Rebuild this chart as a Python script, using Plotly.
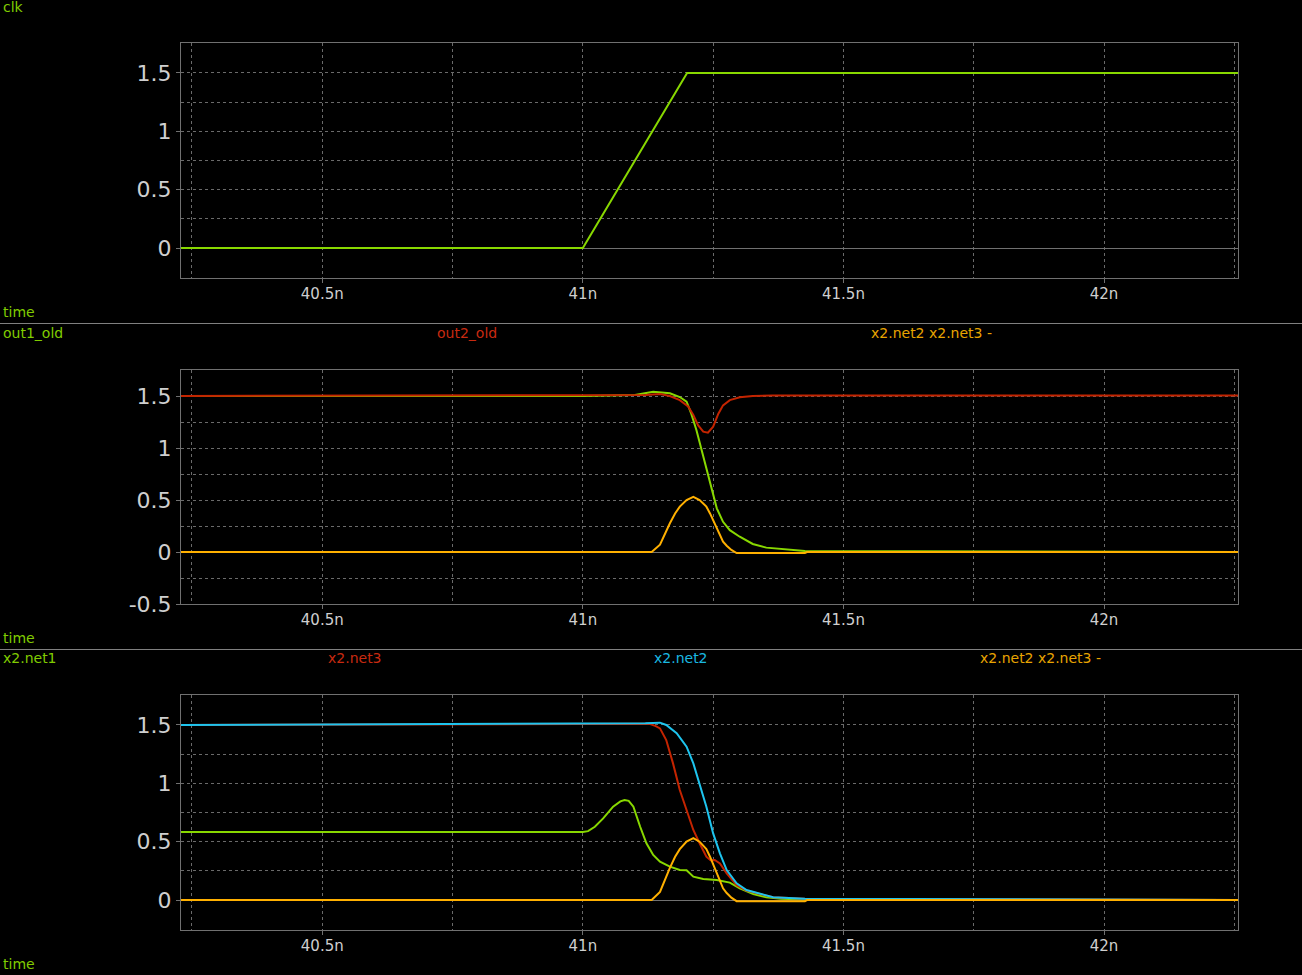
import plotly.graph_objects as go

# ---------------- data (time in ns, values in V) ----------------
clk_t = [40.2, 41.0, 41.2, 42.3]
clk_v = [0.0, 0.0, 1.5, 1.5]

out1_old_t = [40.2, 41.0, 41.1, 41.135, 41.167, 41.186, 41.199, 41.208, 41.218, 41.228,
              41.237, 41.247, 41.257, 41.269, 41.282, 41.301, 41.326, 41.352, 41.378,
              41.403, 41.426, 42.3]
out1_old_v = [1.5, 1.5, 1.51, 1.54, 1.526, 1.49, 1.445, 1.33, 1.17, 0.98,
              0.79, 0.596, 0.42, 0.29, 0.21, 0.147, 0.077, 0.042, 0.03,
              0.02, 0.01, 0.0]

out2_old_t = [40.2, 41.05, 41.12, 41.148, 41.167, 41.186, 41.202, 41.212, 41.221, 41.231,
              41.24, 41.25, 41.26, 41.269, 41.282, 41.301, 41.326, 41.364, 42.3]
out2_old_v = [1.5, 1.505, 1.51, 1.52, 1.5, 1.46, 1.40, 1.317, 1.22, 1.157,
              1.147, 1.205, 1.33, 1.41, 1.46, 1.487, 1.5, 1.505, 1.505]

diff_t = [40.2, 41.132, 41.148, 41.157, 41.167, 41.177, 41.186, 41.199, 41.212, 41.224,
          41.237, 41.244, 41.25, 41.257, 41.263, 41.269, 41.276, 41.285, 41.295,
          41.426, 41.43, 42.3]
diff_v = [0.0, 0.0, 0.07, 0.17, 0.276, 0.37, 0.436, 0.5, 0.53, 0.5,
          0.436, 0.371, 0.308, 0.229, 0.163, 0.1, 0.06, 0.02, -0.01,
          -0.01, 0.0, 0.0]

net1_t = [40.2, 41.0, 41.01, 41.023, 41.039, 41.058, 41.072, 41.08, 41.088, 41.097,
          41.11, 41.122, 41.135, 41.148, 41.167, 41.186, 41.199, 41.212, 41.231,
          41.257, 41.282, 41.301, 41.327, 41.352, 41.38, 41.426, 42.3]
net1_v = [0.583, 0.583, 0.59, 0.628, 0.7, 0.8, 0.845, 0.857, 0.85, 0.8,
          0.628, 0.486, 0.386, 0.329, 0.286, 0.257, 0.255, 0.2, 0.18,
          0.171, 0.149, 0.1, 0.051, 0.023, 0.01, 0.005, 0.0]

net3_t = [40.2, 41.0, 41.128, 41.14, 41.148, 41.16, 41.173, 41.186, 41.199, 41.212,
          41.224, 41.237, 41.245, 41.253, 41.263, 41.276, 41.295, 41.314, 41.34,
          41.365, 41.426, 42.3]
net3_v = [1.5, 1.505, 1.51, 1.49, 1.471, 1.371, 1.171, 0.943, 0.771, 0.6,
          0.486, 0.371, 0.34, 0.343, 0.314, 0.229, 0.126, 0.08, 0.051,
          0.023, 0.011, 0.0]

net2_t = [40.2, 41.0, 41.12, 41.148, 41.16, 41.18, 41.199, 41.212, 41.224, 41.237,
          41.25, 41.263, 41.276, 41.295, 41.314, 41.34, 41.365, 41.426, 42.3]
net2_v = [1.5, 1.508, 1.515, 1.52, 1.5, 1.43, 1.314, 1.171, 1.0, 0.8,
          0.571, 0.4, 0.257, 0.143, 0.086, 0.051, 0.023, 0.011, 0.0]

x_tickvals = [40.5, 41.0, 41.5, 42.0]
x_ticktext = ["40.5n", "41n", "41.5n", "42n"]
y_tickvals = [-0.5, 0.0, 0.5, 1.0, 1.5]
y_ticktext = ["-0.5", "0", "0.5", "1", "1.5"]

# ---------------- styling ----------------
GREEN = "#88d800"
RED = "#c42400"
ORANGE = "#ffb000"
CYAN = "#1ec4ee"
GREEN_TXT = "#80cc00"
RED_TXT = "#c82a10"
ORANGE_TXT = "#e8a400"
CYAN_TXT = "#1ab8e0"
BOX = "#707070"
GRID = "#6a6a6a"
TICKFONT = "#cfcfcf"
FONT = "DejaVu Sans"

W, H = 1302, 975
XL, XR = 181, 1238
panels = [(43, 278, [-0.257, 1.757]), (370, 604, [-0.5, 1.75]), (695, 930, [-0.257, 1.757])]

fig = go.Figure()

def add(t, v, color, idx):
    sfx = "" if idx == 1 else str(idx)
    fig.add_trace(go.Scatter(x=t, y=v, mode="lines", line=dict(color=color, width=2),
                             xaxis="x" + sfx, yaxis="y" + sfx, showlegend=False,
                             hoverinfo="skip"))

add(clk_t, clk_v, GREEN, 1)
add(out1_old_t, out1_old_v, GREEN, 2)
add(out2_old_t, out2_old_v, RED, 2)
add(diff_t, diff_v, ORANGE, 2)
add(net1_t, net1_v, GREEN, 3)
add(net3_t, net3_v, RED, 3)
add(net2_t, net2_v, CYAN, 3)
add(diff_t, diff_v, ORANGE, 3)

layout = dict(width=W, height=H, margin=dict(l=0, r=0, t=0, b=0, pad=0),
              autosize=False,
              paper_bgcolor="black", plot_bgcolor="black", showlegend=False)

for i, (top, bot, yr) in enumerate(panels, start=1):
    sfx = "" if i == 1 else str(i)
    xa = dict(domain=[XL / W, XR / W], range=[40.229, 42.257], anchor="y" + sfx,
              automargin=False,
              showline=True, mirror=True, linecolor=BOX, linewidth=1,
              tickmode="array", tickvals=x_tickvals, ticktext=x_ticktext,
              ticks="outside", ticklen=4, tickcolor=BOX, ticklabelstandoff=-2,
              tickfont=dict(family=FONT, size=15, color=TICKFONT),
              showgrid=True, gridcolor=GRID, griddash="3px,3px", gridwidth=1,
              minor=dict(tickmode="linear", tick0=0, dtick=0.25, showgrid=True,
                         gridcolor=GRID, griddash="3px,3px", ticks=""),
              zeroline=False, fixedrange=True)
    ya = dict(domain=[1 - bot / H, 1 - top / H], range=yr, anchor="x" + sfx,
              automargin=False,
              showline=True, mirror=True, linecolor=BOX, linewidth=1,
              tickmode="array", tickvals=y_tickvals, ticktext=y_ticktext,
              ticks="outside", ticklen=4, tickcolor=BOX,
              tickfont=dict(family=FONT, size=22, color=TICKFONT),
              showgrid=True, gridcolor=GRID, griddash="3px,3px", gridwidth=1,
              minor=dict(tickmode="linear", tick0=0, dtick=0.25, showgrid=True,
                         gridcolor=GRID, griddash="3px,3px", ticks=""),
              zeroline=True, zerolinecolor=BOX, zerolinewidth=1, fixedrange=True)
    layout["xaxis" + sfx] = xa
    layout["yaxis" + sfx] = ya

fig.update_layout(**layout)

# separators between panels
for yy in [323.5, 649.5]:
    fig.add_shape(type="line", xref="paper", yref="paper", x0=0, x1=1,
                  y0=1 - yy / H, y1=1 - yy / H, line=dict(color="#808080", width=1))

labels = [
    ("clk", 1, 7, GREEN_TXT),
    ("time", 1, 312, GREEN_TXT),
    ("out1_old", 1, 333, GREEN_TXT),
    ("out2_old", 435, 333, RED_TXT),
    ("x2.net2 x2.net3 -", 869, 333, ORANGE_TXT),
    ("time", 1, 638, GREEN_TXT),
    ("x2.net1", 1, 658, GREEN_TXT),
    ("x2.net3", 326, 658, RED_TXT),
    ("x2.net2", 652, 658, CYAN_TXT),
    ("x2.net2 x2.net3 -", 978, 658, ORANGE_TXT),
    ("time", 1, 964, GREEN_TXT),
]
for txt, x, y, c in labels:
    fig.add_annotation(text=txt, xref="paper", yref="paper", x=x / W, y=1 - y / H,
                       xanchor="left", yanchor="middle", showarrow=False,
                       font=dict(family=FONT, size=14, color=c))

fig.write_html("out.html", config={"displayModeBar": False},
               post_script="document.body.style.margin='0px';"
                           "document.body.style.background='black';"
                           "document.documentElement.style.background='black';")
